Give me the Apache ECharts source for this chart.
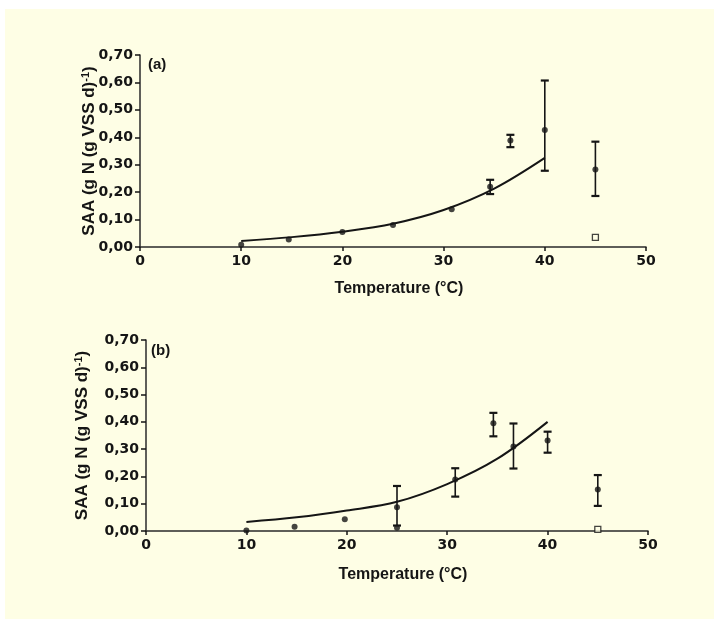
<!DOCTYPE html>
<html>
<head>
<meta charset="utf-8">
<script src="https://cdn.jsdelivr.net/npm/echarts@6/dist/echarts.min.js"></script>
<style>
html,body{margin:0;padding:0;background:#fff;}
#chart{width:714px;height:619px;}
</style>
</head>
<body>
<div id="chart"></div>
<script>
// ---------- Data ----------
const xTicks = [0, 10, 20, 30, 40, 50];
const yTicks = [0, 0.1, 0.2, 0.3, 0.4, 0.5, 0.6, 0.7];

// Panel (a)
const tempA = [10, 14.7, 20, 25, 30.8, 34.6, 36.6, 40, 45];
const saaA  = [0.008, 0.027, 0.055, 0.08, 0.138, 0.22, 0.388, 0.427, 0.283];
const errTempA = [34.6, 36.6, 40, 45];
const errLowA  = [0.193, 0.364, 0.278, 0.186];
const errHighA = [0.245, 0.409, 0.607, 0.384];
const openTempA = [45];
const openSaaA  = [0.035];
const fitTempA = [10, 15, 20, 25, 30, 35, 40];
const fitSaaA  = [0.022, 0.036, 0.056, 0.085, 0.135, 0.213, 0.325];

// Panel (b)
const tempB = [10, 14.8, 19.8, 25, 25, 30.8, 34.6, 36.6, 40, 45];
const saaB  = [0.002, 0.016, 0.043, 0.087, 0.012, 0.189, 0.395, 0.31, 0.332, 0.152];
const errTempB = [25, 30.8, 34.6, 36.6, 40, 45];
const errLowB  = [0.02, 0.126, 0.347, 0.229, 0.287, 0.092];
const errHighB = [0.165, 0.23, 0.433, 0.394, 0.364, 0.205];
const openTempB = [45];
const openSaaB  = [0.006];
const fitTempB = [10, 15, 20, 25, 30, 35, 40];
const fitSaaB  = [0.033, 0.05, 0.075, 0.107, 0.172, 0.265, 0.40];

// ---------- Chart ----------
const ink = '#151515';
const bg = '#fefee5';
const labelFont = {color: ink, fontFamily: 'DejaVu Sans', fontWeight: 'bold', fontSize: 14};

function xAxisCfg(gridIndex, gap) {
  return {
    gridIndex, type: 'value', min: xTicks[0], max: xTicks[xTicks.length - 1], interval: 10,
    name: 'Temperature (°C)', nameLocation: 'middle', nameGap: gap,
    nameTextStyle: {color: ink, fontFamily: 'Liberation Sans', fontWeight: 'bold', fontSize: 16, padding: [0, 0, 0, 12]},
    axisLine: {show: true, onZero: false, lineStyle: {color: '#2a2a2a', width: 1.5}},
    axisTick: {show: true, inside: false, length: 4, lineStyle: {color: ink, width: 1.5}},
    axisLabel: Object.assign({margin: 7}, labelFont),
    splitLine: {show: false}
  };
}
function yAxisCfg(gridIndex, gap) {
  return {
    gridIndex, type: 'value', min: yTicks[0], max: yTicks[yTicks.length - 1], interval: 0.1,
    name: '{n|SAA (g N (g VSS d)}{s|-1}{n|)}', nameLocation: 'middle', nameGap: gap, nameRotate: 90,
    nameMoveOverlap: false,
    nameTextStyle: {
      rich: {
        n: {color: ink, fontFamily: 'Liberation Sans', fontWeight: 'bold', fontSize: 17},
        s: {color: ink, fontFamily: 'Liberation Sans', fontWeight: 'bold', fontSize: 11, verticalAlign: 'top', padding: [0, 0, 7, 0]}
      }
    },
    axisLine: {show: true, onZero: false, lineStyle: {color: '#2a2a2a', width: 1.5}},
    axisTick: {show: true, inside: false, length: 5, lineStyle: {color: ink, width: 1.5}},
    axisLabel: Object.assign({margin: 7, formatter: v => v.toFixed(2).replace('.', ',')}, labelFont),
    splitLine: {show: false}
  };
}

function errorRender(params, api) {
  const x = api.value(0), lo = api.value(1), hi = api.value(2);
  const pLo = api.coord([x, lo]);
  const pHi = api.coord([x, hi]);
  const h = 4;
  const st = {stroke: ink, lineWidth: 1.6};
  const cap = {stroke: ink, lineWidth: 2.2};
  return {
    type: 'group',
    children: [
      {type: 'line', shape: {x1: pHi[0], y1: pHi[1], x2: pLo[0], y2: pLo[1]}, style: st},
      {type: 'line', shape: {x1: pHi[0] - h, y1: pHi[1], x2: pHi[0] + h, y2: pHi[1]}, style: cap},
      {type: 'line', shape: {x1: pLo[0] - h, y1: pLo[1], x2: pLo[0] + h, y2: pLo[1]}, style: cap}
    ]
  };
}

function panelSeries(idx, temp, saa, eT, eL, eH, oT, oS, fT, fS) {
  return [
    {
      type: 'line', xAxisIndex: idx, yAxisIndex: idx, smooth: 0.35, showSymbol: false, silent: true,
      data: fT.map((t, i) => [t, fS[i]]), lineStyle: {color: ink, width: 2}, z: 3
    },
    {
      type: 'custom', xAxisIndex: idx, yAxisIndex: idx, renderItem: errorRender, silent: true,
      data: eT.map((t, i) => [t, eL[i], eH[i]]), z: 4
    },
    {
      type: 'scatter', xAxisIndex: idx, yAxisIndex: idx, symbol: 'circle', symbolSize: 6,
      data: temp.map((t, i) => [t, saa[i]]), itemStyle: {color: ink}, z: 5
    },
    {
      type: 'scatter', xAxisIndex: idx, yAxisIndex: idx, symbol: 'rect', symbolSize: 6,
      data: oT.map((t, i) => [t, oS[i]]), itemStyle: {color: bg, borderColor: ink, borderWidth: 1.3}, z: 5
    }
  ];
}

const chart = echarts.init(document.getElementById('chart'), null, {renderer: 'canvas'});
chart.setOption({
  backgroundColor: '#ffffff',
  animation: false,
  graphic: [
    {type: 'rect', left: 5, top: 9, z: -10, shape: {width: 709, height: 610}, style: {fill: bg}},
    {type: 'text', left: 148, top: 57, style: {text: '(a)', fill: ink, font: 'bold 15px "Liberation Sans"'}},
    {type: 'text', left: 151, top: 343, style: {text: '(b)', fill: ink, font: 'bold 15px "Liberation Sans"'}}
  ],
  grid: [
    {left: 140, right: 68, top: 55, height: 192},
    {left: 146, right: 66, top: 340, height: 191}
  ],
  xAxis: [xAxisCfg(0, 34), xAxisCfg(1, 36)],
  yAxis: [yAxisCfg(0, 42), yAxisCfg(1, 55)],
  series: [
    ...panelSeries(0, tempA, saaA, errTempA, errLowA, errHighA, openTempA, openSaaA, fitTempA, fitSaaA),
    ...panelSeries(1, tempB, saaB, errTempB, errLowB, errHighB, openTempB, openSaaB, fitTempB, fitSaaB)
  ]
});
</script>
</body>
</html>
